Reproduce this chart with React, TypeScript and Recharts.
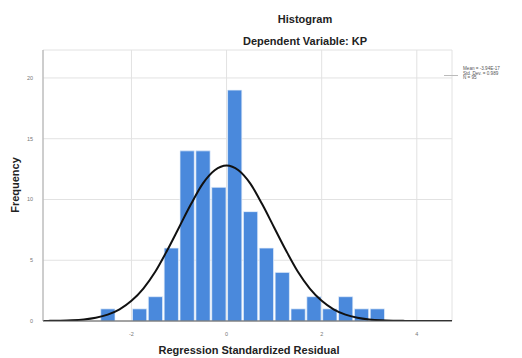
import React from "react";
import { ComposedChart, Bar, Line, XAxis, YAxis, CartesianGrid } from "recharts";

// histogram bins (width 1/3), midpoints and frequencies
const binMids = [
  -2.5, -2.1667, -1.8333, -1.5, -1.1667, -0.8333, -0.5, -0.1667, 0.1667, 0.5,
  0.8333, 1.1667, 1.5, 1.8333, 2.1667, 2.5, 2.8333, 3.1667,
];
const binCounts = [1, 0, 1, 2, 6, 14, 14, 11, 19, 9, 6, 4, 1, 2, 1, 2, 1, 1];

// normal curve
const curveX = [
  -4, -3.75, -3.5, -3.25, -3, -2.75, -2.5, -2.25, -2, -1.75, -1.5, -1.25, -1,
  -0.75, -0.5, -0.25, 0, 0.25, 0.5, 0.75, 1, 1.25, 1.5, 1.75, 2, 2.25, 2.5,
  2.75, 3, 3.25, 3.5, 3.75, 4, 4.25, 4.5, 4.75,
];
const curveY = [
  0.003, 0.01, 0.024, 0.058, 0.13, 0.27, 0.52, 0.96, 1.66, 2.67, 4.05, 5.8, 7.7,
  9.6, 11.3, 12.4, 12.8, 12.4, 11.3, 9.6, 7.7, 5.8, 4.05, 2.67, 1.66, 0.96,
  0.52, 0.27, 0.13, 0.058, 0.024, 0.01, 0.003, 0.001, 0, 0,
];

const xTicks = [-2, 0, 2, 4];
const yTicks = [0, 5, 10, 15, 20];
const legendLines = ["Mean = -3.94E-17", "Std. Dev. = 0.989", "N = 95"];

const bins = binMids.map((x, i) => ({ x, count: binCounts[i] }));
const curve = curveX.map((x, i) => ({ x, fit: curveY[i] }));

const W = 522;
const H = 358;
const margin = { top: 50, right: 70, bottom: 0, left: 13 };
const yAxisW = 30;
const xAxisH = 37;
const xDomain: [number, number] = [-3.86, 4.74];
const plotW = W - margin.left - margin.right - yAxisW;
const barW = plotW / (xDomain[1] - xDomain[0]) / 3;

const bold: React.CSSProperties = {
  position: "absolute",
  fontFamily: "'Liberation Sans', Arial, sans-serif",
  fontWeight: "bold",
  fontSize: 11,
  color: "#222",
  whiteSpace: "nowrap",
};

export default function App() {
  return (
    <div
      style={{
        position: "absolute",
        left: 0,
        top: 0,
        width: W,
        height: H,
        background: "#fff",
        overflow: "hidden",
        fontFamily: "'Liberation Sans', Arial, sans-serif",
      }}
    >
      <ComposedChart width={W} height={H} data={bins} margin={margin}>
        <CartesianGrid stroke="#e2e2e2" strokeWidth={1} />
        <XAxis
          dataKey="x"
          type="number"
          domain={xDomain}
          ticks={xTicks}
          allowDataOverflow
          height={xAxisH}
          axisLine={{ stroke: "#555" }}
          tickLine={false}
          tickMargin={5}
          tick={{ fontSize: 5.5, fill: "#777" }}
        />
        <XAxis
          xAxisId="curve"
          dataKey="x"
          type="number"
          domain={xDomain}
          allowDataOverflow
          hide
        />
        <YAxis
          type="number"
          domain={[0, 22.3]}
          ticks={yTicks}
          allowDataOverflow
          width={yAxisW}
          axisLine={{ stroke: "#aaa" }}
          tickLine={false}
          tickMargin={4}
          tick={{ fontSize: 5.5, fill: "#777" }}
        />
        <Bar
          dataKey="count"
          fill="#4a89dc"
          stroke="#e8f0fb"
          strokeWidth={0.7}
          barSize={barW}
          isAnimationActive={false}
        />
        <Line
          xAxisId="curve"
          data={curve}
          dataKey="fit"
          type="monotone"
          dot={false}
          activeDot={false}
          stroke="#111"
          strokeWidth={2}
          isAnimationActive={false}
        />
      </ComposedChart>

      <div style={{ ...bold, left: 305, top: 13, transform: "translateX(-50%)" }}>
        Histogram
      </div>
      <div style={{ ...bold, left: 305, top: 35, transform: "translateX(-50%)" }}>
        Dependent Variable: KP
      </div>
      <div
        style={{
          ...bold,
          left: 15,
          top: 185,
          transform: "translate(-50%, -50%) rotate(-90deg)",
        }}
      >
        Frequency
      </div>
      <div style={{ ...bold, left: 249, top: 344, transform: "translateX(-50%)" }}>
        Regression Standardized Residual
      </div>

      <div
        style={{
          position: "absolute",
          left: 444,
          top: 75,
          width: 14,
          height: 1,
          background: "#bbb",
        }}
      />
      {legendLines.map((t, i) => (
        <div
          key={t}
          style={{
            position: "absolute",
            left: 463,
            top: 66 + i * 4.6,
            fontSize: 4.6,
            lineHeight: "5px",
            color: "#555",
            whiteSpace: "nowrap",
          }}
        >
          {t}
        </div>
      ))}
    </div>
  );
}
